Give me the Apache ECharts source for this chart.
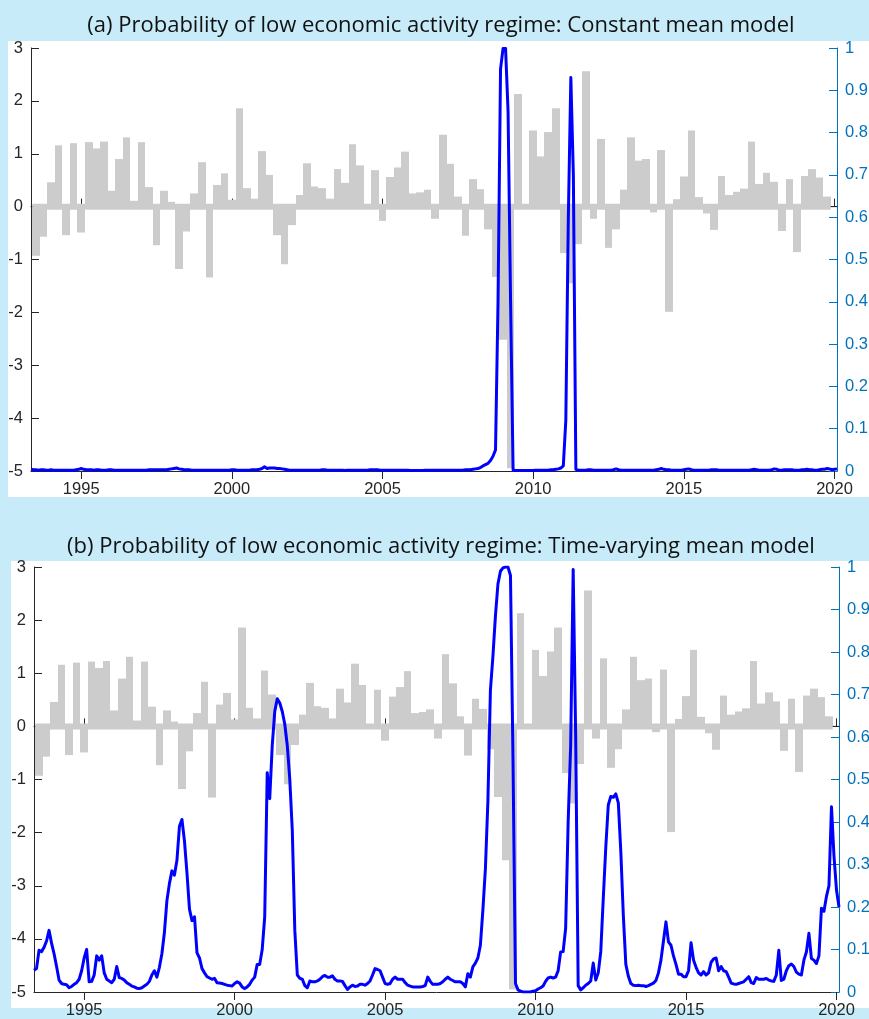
<!DOCTYPE html>
<html>
<head>
<meta charset="utf-8">
<script src="https://cdn.jsdelivr.net/npm/echarts@6/dist/echarts.min.js"></script>
<style>
html,body{margin:0;padding:0;background:#c8ebfa;}
#chart{width:869px;height:1019px;}
</style>
</head>
<body>
<div id="chart"></div>
<script>
// ---------------- DATA ----------------
const titleA = '(a) Probability of low economic activity regime: Constant mean model';
const titleB = '(b) Probability of low economic activity regime: Time-varying mean model';

const xTickValues = [1995, 2000, 2005, 2010, 2015, 2020];
const xMin = 1993 + 4 / 12;
const xMax = 2020 + 1 / 12;

// Quarterly growth bars (left axis), first bar centred at 1993.5, one per quarter
const barStart = 1993.5;
const barStep = 0.25;
const barValues = [
  -0.93,-0.57, 0.46, 1.16,-0.54, 1.20,-0.49, 1.22, 1.10, 1.23, 0.30, 0.90,
   1.31, 0.11, 1.22, 0.37,-0.73, 0.30, 0.09,-1.18,-0.47, 0.25, 0.84,-1.34,
   0.41, 0.63, 0.13, 1.86, 0.35, 0.15, 1.05, 0.60,-0.54,-1.09,-0.35, 0.22,
   0.82, 0.38, 0.35, 0.15, 0.71, 0.45, 1.18, 0.78, 0.00, 0.69,-0.27, 0.56,
   0.74, 1.04, 0.25, 0.27, 0.32,-0.23, 1.36, 0.81, 0.19,-0.55, 0.52, 0.33,
  -0.43,-1.33,-2.52,-4.95, 2.13, 0.00, 1.44, 0.95, 1.41, 1.86,-0.88,-1.45,
  -0.71, 2.56,-0.23, 1.28,-0.78,-0.43, 0.32, 1.31, 0.87, 0.90,-0.11, 1.07,
  -1.99, 0.14, 0.57, 1.44, 0.18,-0.13,-0.44, 0.58, 0.22, 0.28, 0.34, 1.23,
   0.43, 0.64, 0.47,-0.46, 0.52,-0.86, 0.58, 0.71, 0.55, 0.19
];

// Monthly regime probabilities (right axis), first month May 1993
const monthStart = 1993 + 4 / 12;
const monthStep = 1 / 12;
const probConstant = [
  0.004,0.003,0.003,0.002,0.003,0.003,0.002,0.002,0.003,0.002,0.002,0.002,
  0.002,0.002,0.002,0.002,0.002,0.002,0.003,0.004,0.006,0.004,0.003,0.003,
  0.003,0.002,0.003,0.003,0.002,0.002,0.002,0.003,0.003,0.002,0.002,0.002,
  0.002,0.002,0.002,0.002,0.002,0.002,0.002,0.002,0.002,0.002,0.002,0.003,
  0.003,0.003,0.003,0.003,0.003,0.003,0.003,0.004,0.005,0.006,0.007,0.005,
  0.004,0.003,0.003,0.003,0.002,0.002,0.002,0.002,0.002,0.002,0.002,0.002,
  0.002,0.002,0.002,0.002,0.002,0.002,0.002,0.002,0.003,0.003,0.002,0.002,
  0.002,0.002,0.002,0.002,0.003,0.003,0.003,0.004,0.006,0.010,0.006,0.007,
  0.007,0.007,0.006,0.006,0.005,0.004,0.003,0.002,0.002,0.002,0.002,0.002,
  0.002,0.002,0.002,0.002,0.002,0.002,0.002,0.002,0.003,0.003,0.002,0.002,
  0.002,0.002,0.002,0.002,0.002,0.001,0.002,0.002,0.002,0.002,0.002,0.002,
  0.002,0.002,0.002,0.003,0.003,0.003,0.003,0.002,0.002,0.002,0.002,0.002,
  0.002,0.002,0.002,0.002,0.002,0.002,0.002,0.001,0.001,0.001,0.001,0.001,
  0.001,0.002,0.002,0.002,0.002,0.002,0.002,0.002,0.002,0.002,0.002,0.002,
  0.002,0.002,0.002,0.002,0.002,0.003,0.003,0.003,0.004,0.005,0.006,0.008,
  0.012,0.015,0.018,0.025,0.035,0.050,0.400,0.950,0.999,0.999,0.850,0.400,
  0.003,0.001,0.001,0.001,0.001,0.001,0.001,0.001,0.001,0.002,0.002,0.002,
  0.002,0.002,0.002,0.003,0.003,0.004,0.005,0.007,0.012,0.120,0.600,0.930,
  0.700,0.004,0.002,0.002,0.002,0.002,0.003,0.003,0.002,0.002,0.002,0.002,
  0.002,0.002,0.002,0.002,0.003,0.005,0.003,0.002,0.002,0.002,0.002,0.002,
  0.002,0.002,0.002,0.002,0.002,0.002,0.002,0.002,0.002,0.003,0.004,0.006,
  0.004,0.003,0.003,0.002,0.002,0.002,0.002,0.002,0.003,0.004,0.005,0.003,
  0.002,0.002,0.002,0.002,0.002,0.002,0.002,0.003,0.003,0.003,0.002,0.002,
  0.002,0.002,0.002,0.002,0.002,0.002,0.002,0.002,0.002,0.002,0.002,0.003,
  0.004,0.003,0.002,0.002,0.002,0.002,0.002,0.003,0.005,0.004,0.002,0.002,
  0.003,0.003,0.003,0.003,0.002,0.002,0.002,0.003,0.003,0.004,0.003,0.003,
  0.002,0.002,0.003,0.004,0.004,0.006,0.005,0.003,0.004,0.005
];
const probTimeVarying = [
  0.051,0.055,0.098,0.095,0.105,0.120,0.145,0.115,0.090,0.060,0.028,0.020,
  0.018,0.017,0.010,0.013,0.018,0.022,0.030,0.050,0.080,0.100,0.024,0.025,
  0.040,0.085,0.075,0.085,0.045,0.030,0.026,0.022,0.030,0.060,0.034,0.032,
  0.028,0.022,0.018,0.014,0.012,0.009,0.008,0.010,0.014,0.018,0.025,0.040,
  0.050,0.035,0.058,0.090,0.140,0.215,0.255,0.285,0.275,0.310,0.390,0.406,
  0.355,0.280,0.195,0.168,0.177,0.092,0.080,0.055,0.045,0.036,0.033,0.030,
  0.032,0.022,0.021,0.020,0.018,0.016,0.015,0.014,0.020,0.024,0.021,0.012,
  0.008,0.012,0.018,0.028,0.035,0.065,0.065,0.100,0.177,0.516,0.455,0.580,
  0.660,0.690,0.680,0.660,0.630,0.580,0.500,0.380,0.145,0.040,0.032,0.030,
  0.015,0.010,0.026,0.024,0.024,0.026,0.030,0.036,0.039,0.035,0.035,0.038,
  0.030,0.026,0.026,0.025,0.015,0.006,0.012,0.016,0.013,0.014,0.018,0.018,
  0.016,0.020,0.026,0.040,0.055,0.053,0.050,0.035,0.020,0.018,0.020,0.030,
  0.035,0.030,0.030,0.030,0.022,0.016,0.014,0.012,0.012,0.012,0.012,0.013,
  0.015,0.035,0.025,0.018,0.018,0.018,0.020,0.024,0.030,0.035,0.030,0.027,
  0.024,0.024,0.024,0.020,0.012,0.043,0.035,0.059,0.068,0.080,0.110,0.193,
  0.290,0.450,0.710,0.790,0.885,0.960,0.990,0.998,1.000,1.000,0.980,0.550,
  0.020,0.005,0.002,0.000,0.000,0.000,0.000,0.002,0.003,0.007,0.010,0.014,
  0.025,0.033,0.035,0.033,0.035,0.050,0.094,0.095,0.150,0.400,0.580,0.994,
  0.600,0.015,0.005,0.010,0.016,0.020,0.026,0.068,0.028,0.045,0.095,0.220,
  0.340,0.440,0.460,0.458,0.466,0.445,0.330,0.180,0.065,0.037,0.020,0.016,
  0.015,0.016,0.015,0.015,0.013,0.015,0.018,0.021,0.027,0.045,0.075,0.120,
  0.165,0.118,0.110,0.085,0.065,0.042,0.042,0.036,0.036,0.050,0.116,0.075,
  0.058,0.045,0.040,0.048,0.040,0.045,0.070,0.078,0.080,0.050,0.060,0.050,
  0.048,0.035,0.021,0.019,0.018,0.020,0.022,0.024,0.030,0.036,0.022,0.020,
  0.034,0.030,0.030,0.030,0.032,0.028,0.026,0.025,0.040,0.098,0.027,0.030,
  0.050,0.062,0.066,0.060,0.047,0.042,0.040,0.075,0.094,0.138,0.079,0.075,
  0.067,0.085,0.197,0.190,0.225,0.250,0.436,0.320,0.240,0.200
];

// ---------------- BUILD ----------------
const barData = barValues.map((v, i) => [barStart + i * barStep, v]);
const lineA = probConstant.map((v, i) => [monthStart + i * monthStep, v]);
const lineB = probTimeVarying.map((v, i) => [monthStart + i * monthStep, v]);
const bandStart = barStart - barStep / 2;
const bandEnd = barStart + (barValues.length - 1) * barStep + barStep / 2;

const BG = '#c8ebfa';
const AX = '#262626';
const RBLUE = '#0072BD';
const TICK_FONT = "'Liberation Sans', Arial, sans-serif";
const TICK_SIZE = 16.5;
const TITLE_FONT = "22px 'Open Sans', 'Noto Sans', sans-serif";

const grids = [
  {left: 31, top: 48, width: 806, height: 423},
  {left: 34, top: 567, width: 805, height: 425}
];

function renderBar(params, api) {
  const x = api.value(0), v = api.value(1);
  const p0 = api.coord([x - barStep / 2, v]);
  const p1 = api.coord([x + barStep / 2, 0]);
  const x0 = Math.round(p0[0]), x1 = Math.round(p1[0]);
  const y0 = Math.min(p0[1], p1[1]), y1 = Math.max(p0[1], p1[1]);
  return {
    type: 'rect',
    shape: {x: x0, y: y0, width: x1 - x0, height: y1 - y0},
    style: {fill: '#cccccc'}
  };
}

function xAxes(gi) {
  const common = {
    type: 'value', gridIndex: gi, min: xMin, max: xMax,
    splitLine: {show: false},
    axisLine: {show: true, lineStyle: {color: AX, width: 1}},
    axisTick: {show: true, inside: true, length: 8, customValues: xTickValues, lineStyle: {color: AX}}
  };
  return [
    Object.assign({}, common, {
      position: 'bottom',
      axisLabel: {show: true, customValues: xTickValues, color: AX, fontSize: TICK_SIZE, fontFamily: TICK_FONT, margin: 10,
        formatter: v => String(Math.round(v))}
    }),
    Object.assign({}, common, {
      position: 'top',
      axisLabel: {show: false}
    })
  ];
}

function yAxes(gi) {
  return [
    {
      type: 'value', gridIndex: gi, position: 'left', min: -5, max: 3, interval: 1,
      splitLine: {show: false},
      axisLine: {show: true, lineStyle: {color: AX}},
      axisTick: {show: true, inside: true, length: 8, lineStyle: {color: AX}},
      axisLabel: {color: AX, fontSize: TICK_SIZE, fontFamily: TICK_FONT, margin: 8}
    },
    {
      type: 'value', gridIndex: gi, position: 'right', min: 0, max: 1, interval: 0.1,
      splitLine: {show: false},
      axisLine: {show: true, lineStyle: {color: RBLUE}},
      axisTick: {show: true, inside: true, length: 8, lineStyle: {color: RBLUE}},
      axisLabel: {color: RBLUE, fontSize: TICK_SIZE, fontFamily: TICK_FONT, margin: 8}
    }
  ];
}

function panelSeries(gi, lineData) {
  const xi = gi * 2, yl = gi * 2, yr = gi * 2 + 1;
  return [
    {
      type: 'custom', xAxisIndex: xi, yAxisIndex: yl, renderItem: renderBar,
      data: barData, encode: {x: 0, y: 1}, z: 1, silent: true
    },
    {
      type: 'line', xAxisIndex: xi, yAxisIndex: yl, data: [[xMin, 0], [xMax, 0]],
      showSymbol: false, lineStyle: {color: AX, width: 1}, z: 2, silent: true
    },
    {
      type: 'line', xAxisIndex: xi, yAxisIndex: yl, data: [[bandStart, 0], [bandEnd, 0]],
      showSymbol: false, lineStyle: {color: '#cccccc', width: 6}, z: 3, silent: true
    },
    {
      type: 'line', xAxisIndex: xi, yAxisIndex: yr, data: lineData,
      showSymbol: false, smooth: false, clip: true,
      lineStyle: {color: '#0000ff', width: 3, join: 'round'}, z: 5, silent: true
    }
  ];
}

const chart = echarts.init(document.getElementById('chart'), null, {renderer: 'canvas'});
chart.setOption({
  backgroundColor: BG,
  animation: false,
  graphic: [
    {type: 'rect', z: -10, shape: {x: 8, y: 41, width: 861, height: 456}, style: {fill: '#ffffff'}},
    {type: 'rect', z: -10, shape: {x: 11, y: 561, width: 858, height: 447}, style: {fill: '#ffffff'}},
    {type: 'text', z: 10, x: 441, y: 26, style: {text: titleA, font: TITLE_FONT, fill: '#111111', align: 'center', verticalAlign: 'middle'}},
    {type: 'text', z: 10, x: 441, y: 547, style: {text: titleB, font: TITLE_FONT, fill: '#111111', align: 'center', verticalAlign: 'middle'}}
  ],
  grid: grids.map(g => Object.assign({containLabel: false, outerBoundsMode: 'none', show: false}, g)),
  xAxis: [].concat(xAxes(0), xAxes(1)),
  yAxis: [].concat(yAxes(0), yAxes(1)),
  series: [].concat(panelSeries(0, lineA), panelSeries(1, lineB))
});
</script>
</body>
</html>
